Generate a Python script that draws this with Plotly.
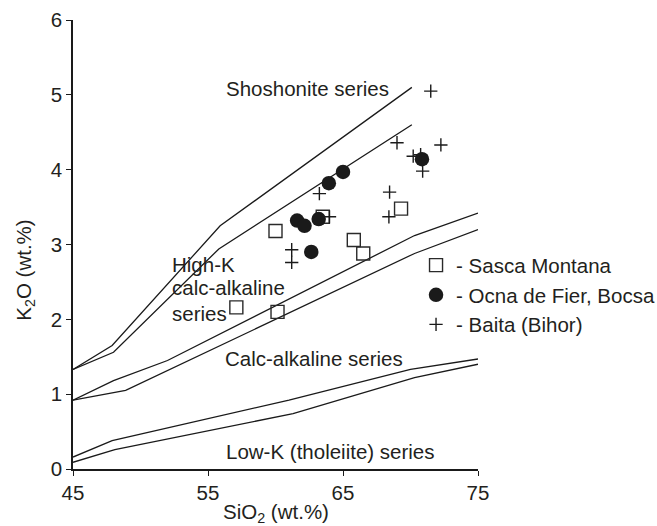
import plotly.graph_objects as go

# ---- data ----
sasca_x = [57.1, 60.15, 60.0, 63.5, 65.8, 66.5, 69.3]
sasca_y = [2.16, 2.10, 3.18, 3.37, 3.06, 2.88, 3.48]

ocna_x = [61.6, 62.15, 63.2, 62.65, 63.95, 65.0, 70.85]
ocna_y = [3.32, 3.25, 3.34, 2.90, 3.82, 3.97, 4.14]

baita_x = [71.5, 69.0, 72.25, 70.2, 70.75, 70.9, 63.25, 68.45, 68.4, 64.0, 61.2, 61.2]
baita_y = [5.05, 4.36, 4.33, 4.18, 4.20, 3.98, 3.68, 3.70, 3.37, 3.37, 2.93, 2.76]

# boundary lines
sho_up_x = [45, 47.9, 55.9, 70.1]
sho_up_y = [1.33, 1.65, 3.25, 5.10]
sho_lo_x = [45, 48.0, 55.8, 70.1]
sho_lo_y = [1.33, 1.56, 2.94, 4.60]

ca_up_x = [45, 48.0, 52.0, 70.3, 75]
ca_up_y = [0.92, 1.18, 1.45, 3.12, 3.42]
ca_lo_x = [45, 48.9, 70.3, 75]
ca_lo_y = [0.92, 1.05, 2.88, 3.20]

lk_up_x = [45, 47.9, 61.0, 70.0, 75]
lk_up_y = [0.16, 0.38, 0.92, 1.33, 1.47]
lk_lo_x = [45, 48.1, 61.3, 70.3, 75]
lk_lo_y = [0.09, 0.26, 0.74, 1.22, 1.40]

x_ticks = [45, 55, 65, 75]
y_ticks = [0, 1, 2, 3, 4, 5, 6]

FONT = "Liberation Sans, Arial, Helvetica, sans-serif"
FS = 20.5
TXT = "#231f20"

fig = go.Figure()

for lx, ly in [(sho_up_x, sho_up_y), (sho_lo_x, sho_lo_y),
               (ca_up_x, ca_up_y), (ca_lo_x, ca_lo_y),
               (lk_up_x, lk_up_y), (lk_lo_x, lk_lo_y)]:
    fig.add_trace(go.Scatter(x=lx, y=ly, mode="lines",
                             line=dict(color="#1a1a1a", width=1.3),
                             showlegend=False, hoverinfo="skip"))

fig.add_trace(go.Scatter(x=sasca_x, y=sasca_y, mode="markers", name="- Sasca Montana",
                         marker=dict(symbol="square-open", size=13, color="#2a2a2a",
                                     line=dict(width=1.4, color="#2a2a2a"))))
fig.add_trace(go.Scatter(x=ocna_x, y=ocna_y, mode="markers", name="- Ocna de Fier, Bocsa",
                         marker=dict(symbol="circle", size=14.5, color="#1a1a1a",
                                     line=dict(width=0))))
fig.add_trace(go.Scatter(x=baita_x, y=baita_y, mode="markers", name="- Baita (Bihor)",
                         marker=dict(symbol="cross-thin", size=9.5, color="#1a1a1a",
                                     line=dict(width=1.4, color="#1a1a1a"))))

def ann(text, x, y, xanchor="center"):
    fig.add_annotation(text=text, x=x, y=y, xref="x", yref="y", showarrow=False,
                       xanchor=xanchor, yanchor="middle",
                       font=dict(family=FONT, size=FS, color=TXT))

ann("Shoshonite series", 62.34, 5.08)
ann("High-K", 52.17, 2.73, "left")
ann("calc-alkaline", 52.17, 2.42, "left")
ann("series", 52.17, 2.08, "left")
ann("Calc-alkaline series", 62.86, 1.48)
ann("Low-K (tholeiite) series", 64.05, 0.24)

fig.add_annotation(text="K<sub>2</sub>O (wt.%)", xref="paper", yref="paper",
                   x=-0.1194, y=0.443, showarrow=False, textangle=-90,
                   xanchor="center", yanchor="middle",
                   font=dict(family=FONT, size=FS, color=TXT))
fig.add_annotation(text="SiO<sub>2</sub> (wt.%)", xref="paper", yref="paper",
                   x=0.5, y=-0.098, showarrow=False,
                   xanchor="center", yanchor="middle",
                   font=dict(family=FONT, size=FS, color=TXT))

fig.update_layout(
    width=657, height=526,
    margin=dict(l=73, r=179, t=20, b=57, autoexpand=False),
    paper_bgcolor="white", plot_bgcolor="white",
    font=dict(family=FONT, size=FS, color=TXT),
    legend=dict(x=0.847, xanchor="left", y=0.388, yanchor="middle",
                bgcolor="rgba(0,0,0,0)", borderwidth=0, itemwidth=30,
                font=dict(family=FONT, size=FS, color=TXT)),
    xaxis=dict(range=[45, 75], tickvals=x_ticks, ticks="outside", ticklen=5,
               tickwidth=1.3, tickcolor="#1a1a1a", showline=True, linecolor="#1a1a1a",
               linewidth=1.5, showgrid=False, zeroline=False,
               tickfont=dict(family=FONT, size=FS, color=TXT)),
    yaxis=dict(range=[0, 6], tickvals=y_ticks, ticks="outside", ticklen=5,
               tickwidth=1.3, tickcolor="#1a1a1a", showline=True, linecolor="#1a1a1a",
               linewidth=1.5, showgrid=False, zeroline=False,
               tickfont=dict(family=FONT, size=FS, color=TXT)),
)

fig.write_html("out.html")
